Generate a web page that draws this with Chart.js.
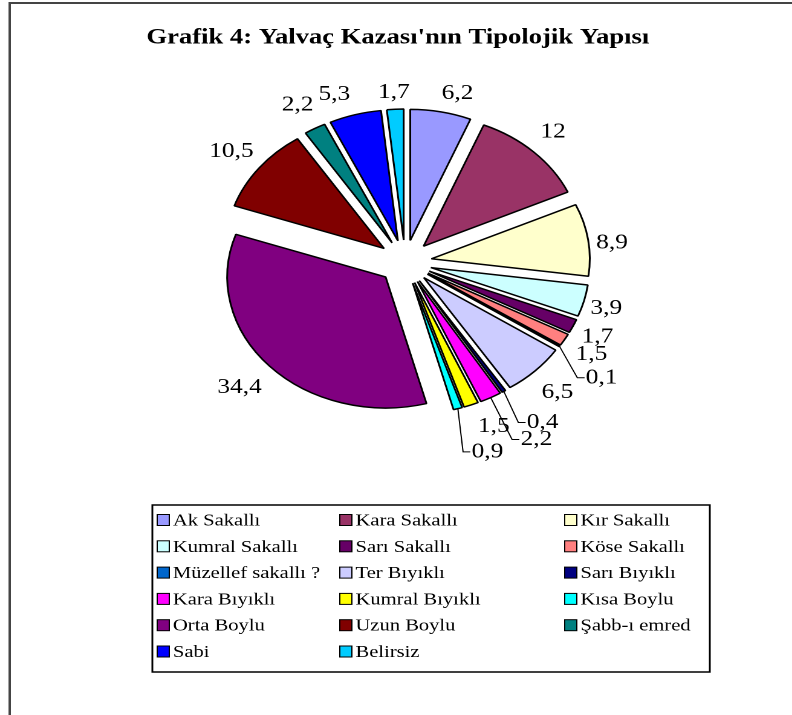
<!DOCTYPE html>
<html>
<head>
<meta charset="utf-8">
<script src="https://cdn.jsdelivr.net/npm/chart.js@4.4.1/dist/chart.umd.min.js"></script>
<style>
    html, body { margin: 0; padding: 0; background: #fff; overflow: hidden; }
    /* the source picture is stretched sideways, so the whole chart is too */
    #wrap { width: 655px; height: 715px; transform: scaleX(1.2092); transform-origin: 0 0; }
    #tipoloji { width: 655px; height: 715px; display: block; }
</style>
</head>
<body>
<div id="wrap"><canvas id="tipoloji" width="655" height="715"></canvas></div>
<script>
// Chart data
const chartTitle = "Grafik 4: Yalvaç Kazası'nın Tipolojik Yapısı";
const categories = ['Ak Sakallı', 'Kara Sakallı', 'Kır Sakallı', 'Kumral Sakallı', 'Sarı Sakallı', 'Köse Sakallı',
    'Müzellef sakallı ?', 'Ter Bıyıklı', 'Sarı Bıyıklı', 'Kara Bıyıklı', 'Kumral Bıyıklı', 'Kısa Boylu',
    'Orta Boylu', 'Uzun Boylu', 'Şabb-ı emred', 'Sabi', 'Belirsiz'];
const percentages = [6.2, 12, 8.9, 3.9, 1.7, 1.5, 0.1, 6.5, 0.4, 2.2, 1.5, 0.9, 34.4, 10.5, 2.2, 5.3, 1.7];

const sliceColors = ['#9999FF', '#993366', '#FFFFCC', '#CCFFFF', '#660066', '#FF8080', '#0066CC', '#CCCCFF',
    '#000080', '#FF00FF', '#FFFF00', '#00FFFF', '#800080', '#800000', '#008080', '#0000FF', '#00CCFF'];

// label tweaks (style only): shift from the default spot, and which ones get a leader line
const labelNudge = [[10, 0], [3, -6], [1, 6], [0, 3], [3, 3], [6, 5], [19, 21], [5, 8], [22, 15], [29, 25],
    [12, 4], [19, 25], [-11, 8], [-8, -5], [-5, -7], [-12, -2], [0, 2]];
const leaderSlices = [6, 8, 9, 11];

const EXPLODE = 22;      // every slice pushed out by this many px
const LABEL_GAP = 19;
const serif = '"Liberation Serif", "Times New Roman", serif';

// push each arc away from the centre, like Excel's exploded pie
const explodePlugin = {
    id: 'explode',
    afterDatasetsUpdate(chart) {
        chart.getDatasetMeta(0).data.forEach(arc => {
            const mid = (arc.startAngle + arc.endAngle) / 2;
            arc.x += Math.cos(mid) * EXPLODE;
            arc.y += Math.sin(mid) * EXPLODE;
        });
    }
};

const labelPlugin = {
    id: 'sliceLabels',
    afterDatasetsDraw(chart) {
        const ctx = chart.ctx;
        ctx.save();
        ctx.font = '21px ' + serif;
        ctx.fillStyle = '#000';
        ctx.textBaseline = 'middle';
        ctx.textAlign = 'center';
        chart.getDatasetMeta(0).data.forEach((arc, i) => {
            const mid = (arc.startAngle + arc.endAngle) / 2;
            const r = arc.outerRadius + LABEL_GAP;
            const tx = arc.x + Math.cos(mid) * r + labelNudge[i][0];
            const ty = arc.y + Math.sin(mid) * r + labelNudge[i][1];
            const text = String(percentages[i]).replace('.', ',');
            if (leaderSlices.includes(i)) {
                const w = ctx.measureText(text).width;
                const left = tx - w / 2;
                ctx.beginPath();
                ctx.strokeStyle = '#000';
                ctx.lineWidth = 1;
                ctx.moveTo(arc.x + Math.cos(mid) * arc.outerRadius, arc.y + Math.sin(mid) * arc.outerRadius);
                ctx.lineTo(left - 7, ty);
                ctx.lineTo(left - 1, ty);
                ctx.stroke();
            }
            ctx.fillText(text, tx, ty);
        });
        ctx.restore();
    }
};

// title, outer frame and the boxed 3-column legend
const framePlugin = {
    id: 'frameAndLegend',
    beforeDraw(chart) {
        const ctx = chart.ctx;
        ctx.save();
        ctx.fillStyle = '#fff';
        ctx.fillRect(0, 0, chart.width, chart.height);
        ctx.restore();
    },
    afterDraw(chart) {
        const ctx = chart.ctx;
        ctx.save();
        ctx.strokeStyle = '#444';
        ctx.lineWidth = 2;
        ctx.beginPath();
        ctx.moveTo(8, chart.height);
        ctx.lineTo(8, 3);
        ctx.lineTo(chart.width, 3);
        ctx.stroke();

        ctx.fillStyle = '#000';
        ctx.font = 'bold 22px ' + serif;
        ctx.textAlign = 'center';
        ctx.textBaseline = 'middle';
        ctx.fillText(chartTitle, 329, 38);

        ctx.strokeStyle = '#000';
        ctx.lineWidth = 1.5;
        ctx.strokeRect(126, 505, 461, 167);

        const colX = [130, 281, 467];
        ctx.font = '17px ' + serif;
        ctx.textAlign = 'left';
        categories.forEach((name, i) => {
            const x = colX[i % 3];
            const y = 520 + Math.floor(i / 3) * 26.3;
            ctx.fillStyle = sliceColors[i];
            ctx.fillRect(x, y - 5.5, 10, 11);
            ctx.lineWidth = 1;
            ctx.strokeRect(x, y - 5.5, 10, 11);
            ctx.fillStyle = '#000';
            ctx.fillText(name, x + 13, y + 1);
        });
        ctx.restore();
    }
};

function createTipolojiPie() {
    const ctx = document.getElementById('tipoloji').getContext('2d');
    new Chart(ctx, {
        type: 'pie',
        data: {
            labels: categories,
            datasets: [{
                data: percentages,
                backgroundColor: sliceColors,
                borderColor: '#000',
                borderWidth: 1.5
            }]
        },
        options: {
            responsive: false,
            devicePixelRatio: 2,
            animation: false,
            events: [],
            radius: 131,
            layout: { padding: { left: 100, right: 85, top: 90, bottom: 281 } },
            plugins: {
                legend: { display: false },
                title: { display: false },
                tooltip: { enabled: false }
            }
        },
        plugins: [explodePlugin, labelPlugin, framePlugin]
    });
}

createTipolojiPie();
</script>
</body>
</html>
